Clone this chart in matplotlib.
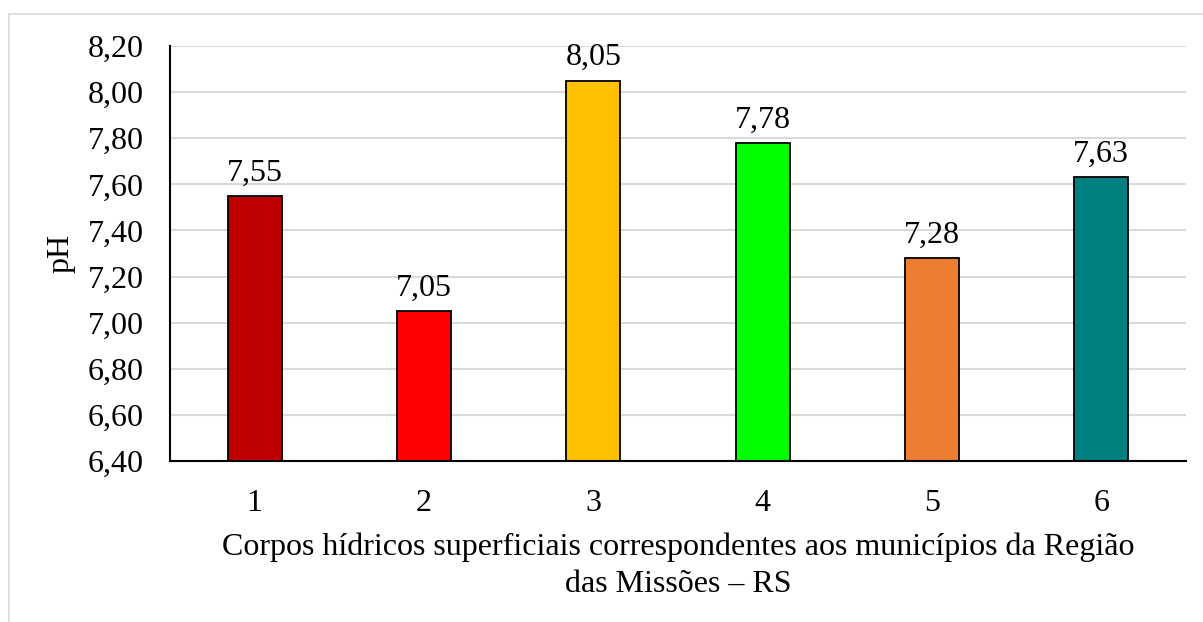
import matplotlib
matplotlib.use("Agg")
import matplotlib.pyplot as plt
from matplotlib.patches import Rectangle

categories = ["1", "2", "3", "4", "5", "6"]
ph_values = [7.55, 7.05, 8.05, 7.78, 7.28, 7.63]
bar_colors = ["#C00000", "#FF0000", "#FFC000", "#00FF00", "#ED7D31", "#008080"]
y_ticks = [6.40, 6.60, 6.80, 7.00, 7.20, 7.40, 7.60, 7.80, 8.00, 8.20]

SERIF = "Liberation Serif"
plt.rcParams["font.family"] = "serif"
plt.rcParams["font.serif"] = ["Liberation Serif"]
FS = 23

fig = plt.figure(figsize=(12.03, 6.22), dpi=100)
W, H = 1203, 622

# outer frame of the chart area
fig.patches.append(Rectangle((9 / W, -0.2), 1.2, (H - 14) / H + 0.2, transform=fig.transFigure,
                             fill=False, edgecolor="#D9D9D9", linewidth=1.2))

ax = fig.add_axes([170 / W, 1 - 461 / H, (1186 - 170) / W, (461 - 46) / H])
x = range(len(categories))
ax.bar(x, ph_values, width=0.32, color=bar_colors, edgecolor="black",
       linewidth=1.3, zorder=3)

ax.set_ylim(6.40, 8.20)
ax.set_xlim(-0.5, len(categories) - 0.5)
ax.set_yticks(y_ticks)
ax.set_yticklabels([f"{v:.2f}".replace(".", ",") for v in y_ticks], fontsize=FS, family=SERIF)
ax.set_xticks(list(x))
ax.set_xticklabels(categories, fontsize=FS, family=SERIF)
ax.tick_params(axis="y", length=0, pad=19)
ax.tick_params(axis="x", length=0, pad=20)

ax.grid(axis="y", color="#D9D9D9", linewidth=1.5, zorder=0)
for s in ["top", "right"]:
    ax.spines[s].set_visible(False)
for s in ["left", "bottom"]:
    ax.spines[s].set_color("black")
    ax.spines[s].set_linewidth(1.5)
    ax.spines[s].set_zorder(4)

for xi, v in zip(x, ph_values):
    ax.annotate(f"{v:.2f}".replace(".", ","), (xi, v), xytext=(0, 6),
                textcoords="offset points", ha="center", va="bottom",
                fontsize=FS, family=SERIF)

ax.set_ylabel("pH", fontsize=FS, family=SERIF, labelpad=9)
ax.set_xlabel("Corpos hídricos superficiais correspondentes aos municípios da Região\ndas Missões \u2013 RS",
              fontsize=FS, fontfamily=SERIF, labelpad=10.5, linespacing=1.35)

fig.savefig("out.png", dpi=100, facecolor="white")
